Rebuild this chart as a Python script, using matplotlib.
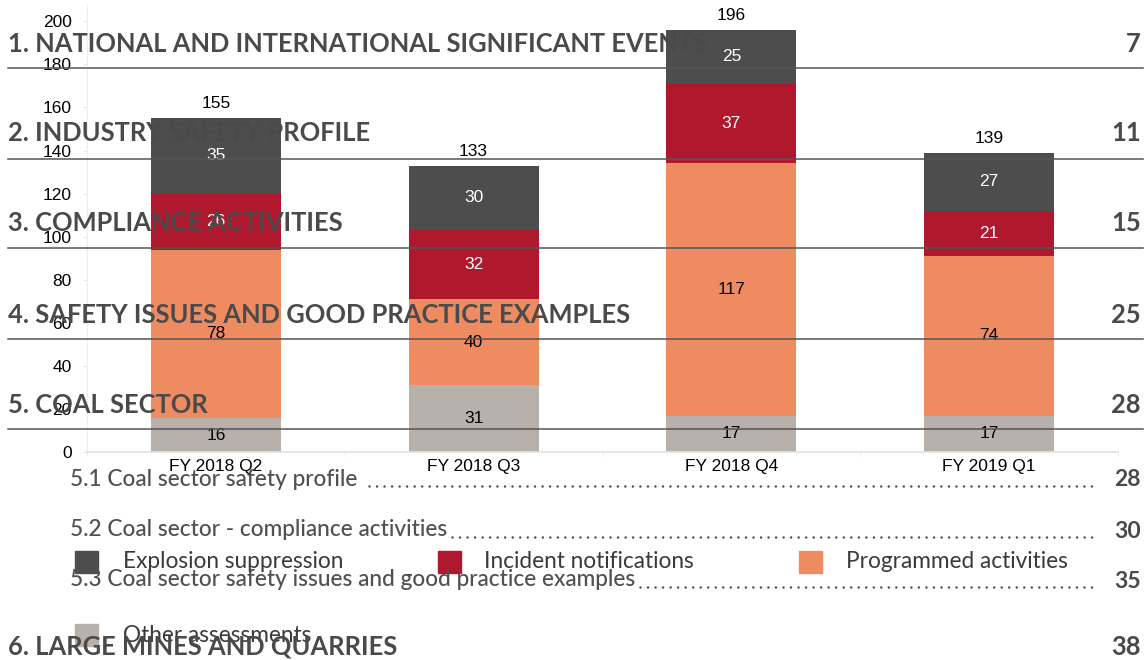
import matplotlib
matplotlib.use("Agg")
import matplotlib.pyplot as plt
import numpy as np

# ---------------- data ----------------
categories = ["FY 2018 Q2", "FY 2018 Q3", "FY 2018 Q4", "FY 2019 Q1"]
other_assessments = [16, 31, 17, 17]
programmed_activities = [78, 40, 117, 74]
incident_notifications = [26, 32, 37, 21]
explosion_suppression = [35, 30, 25, 27]
totals = [155, 133, 196, 139]
y_ticks = [0, 20, 40, 60, 80, 100, 120, 140, 160, 180, 200]

toc_headings = ["1. NATIONAL AND INTERNATIONAL SIGNIFICANT EVENTS",
                "2. INDUSTRY SAFETY PROFILE",
                "3. COMPLIANCE ACTIVITIES",
                "4. SAFETY ISSUES AND GOOD PRACTICE EXAMPLES",
                "5. COAL SECTOR"]
toc_heading_pages = ["7", "11", "15", "25", "28"]
toc_sub = ["5.1 Coal sector safety profile",
           "5.2 Coal sector - compliance activities",
           "5.3 Coal sector safety issues and good practice examples"]
toc_sub_pages = ["28", "30", "35"]
toc_last = "6. LARGE MINES AND QUARRIES"
toc_last_page = "38"

# ---------------- style ----------------
C_EXP = "#4d4d4d"
C_INC = "#b0182d"
C_PRO = "#ef8b61"
C_OTH = "#b8b0ab"
TOC_COL = "#4a4a4a"

W, H = 1147, 660
fig = plt.figure(figsize=(W / 100, H / 100), dpi=100)

def fx(px):
    return px / W

def fy(py):
    return 1 - py / H

ARIAL = ["Liberation Sans", "DejaVu Sans"]
TOCF = ["Lato", "DejaVu Sans"]

ax = fig.add_axes([fx(87), fy(452.3), fx(1118) - fx(87), fy(5) - fy(452.3)])
x = np.arange(len(categories))
bw = 0.505
series = [(other_assessments, C_OTH, "k", "Other assessments"),
          (programmed_activities, C_PRO, "k", "Programmed activities"),
          (incident_notifications, C_INC, "white", "Incident notifications"),
          (explosion_suppression, C_EXP, "white", "Explosion suppression")]
bottom = np.zeros(len(categories))
for vals, col, tcol, name in series:
    v = np.array(vals, dtype=float)
    ax.bar(x, v, bw, bottom=bottom, color=col, zorder=2)
    for xi, b, vi in zip(x, bottom, v):
        ax.text(xi, b + vi / 2, f"{int(vi)}", ha="center", va="center",
                color=tcol, fontsize=12.5, family=ARIAL, zorder=3)
    bottom += v
for xi, t in zip(x, totals):
    ax.text(xi, t + 3.2, f"{t}", ha="center", va="bottom", color="k",
            fontsize=12.5, family=ARIAL, zorder=3)

ax.set_xlim(-0.5, len(categories) - 0.5)
ax.set_ylim(0, 207.5)
ax.set_yticks(y_ticks)
ax.set_yticklabels([str(t) for t in y_ticks], family=ARIAL, fontsize=12.5)
ax.set_xticks(x)
ax.set_xticklabels(categories, family=ARIAL, fontsize=12.5)
ax.set_xticks(np.arange(len(categories) + 1) - 0.5, minor=True)
ax.tick_params(axis="x", which="major", length=0, pad=5)
ax.tick_params(axis="x", which="minor", length=3, color="#e6e6e6")
ax.tick_params(axis="y", length=3, color="#e6e6e6", pad=8)
for s in ["top", "right"]:
    ax.spines[s].set_visible(False)
ax.spines["left"].set_color("#eeeeee")
ax.spines["bottom"].set_color("#e2e2e2")
ax.spines["bottom"].set_linewidth(1.2)
ax.patch.set_alpha(0)

# ---------------- legend (manual, to match placement) ----------------
leg_items = [(C_EXP, "Explosion suppression", 75, 123, 562),
             (C_INC, "Incident notifications", 438, 484, 562),
             (C_PRO, "Programmed activities", 799, 846, 562),
             (C_OTH, "Other assessments", 75, 123, 635)]
for col, lab, lx, tx, ly in leg_items:
    fig.patches.append(plt.Rectangle((fx(lx), fy(ly + 11)), fx(23), 22 / H,
                                     transform=fig.transFigure, color=col,
                                     zorder=4))
    fig.text(fx(tx), fy(ly), lab, ha="left", va="center",
             fontsize=16.3, fontweight="normal", family=TOCF,
             color="#3a3a3a", zorder=4)

# ---------------- table of contents overlay ----------------
head_y = [44, 133, 223, 315, 405]
rule_y = [68, 159, 248, 339, 429]
HFS = 18.4
for t, p, yy, ry in zip(toc_headings, toc_heading_pages, head_y, rule_y):
    fig.text(fx(8), fy(yy), t, ha="left", va="center", fontsize=HFS,
             fontweight="bold", family=TOCF, color=TOC_COL, zorder=10)
    fig.text(fx(1141), fy(yy), p, ha="right", va="center", fontsize=HFS,
             fontweight="bold", family=TOCF, color=TOC_COL, zorder=10)
    fig.add_artist(plt.Line2D([fx(8), fx(1143)], [fy(ry), fy(ry)],
                              transform=fig.transFigure, color="#555555",
                              lw=1.1, zorder=10))

sub_y = [479, 530, 580]
sub_x = [70, 70, 70]
sub_gap = [12, 5, 5]
sub_texts = []
for t, p, yy, xx, g in zip(toc_sub, toc_sub_pages, sub_y, sub_x, sub_gap):
    st = fig.text(fx(xx), fy(yy), t, ha="left", va="center", fontsize=16.3,
                  fontweight="medium", family=TOCF, color="#505050",
                  zorder=10)
    sub_texts.append((st, yy, g))
    fig.text(fx(1141), fy(yy + 1), p, ha="right", va="center", fontsize=16.5,
             fontweight="bold", family=TOCF, color=TOC_COL, zorder=10)

fig.text(fx(8), fy(647), toc_last, ha="left", va="center", fontsize=HFS,
         fontweight="bold", family=TOCF, color=TOC_COL, zorder=10)
fig.text(fx(1141), fy(647), toc_last_page, ha="right", va="center",
         fontsize=HFS, fontweight="bold", family=TOCF, color=TOC_COL,
         zorder=10)

# dotted leaders after the sub-entries
fig.canvas.draw()
r = fig.canvas.get_renderer()
for st, yy, g in sub_texts:
    bb = st.get_window_extent(renderer=r)
    x0 = bb.x1 + g
    fig.add_artist(plt.Line2D([x0 / W, fx(1098)], [fy(yy + 7), fy(yy + 7)],
                              transform=fig.transFigure, color=TOC_COL,
                              lw=1.8, linestyle=(0, (0.01, 3.0)),
                              dash_capstyle="round", zorder=10))

fig.savefig("out.png", dpi=100)
